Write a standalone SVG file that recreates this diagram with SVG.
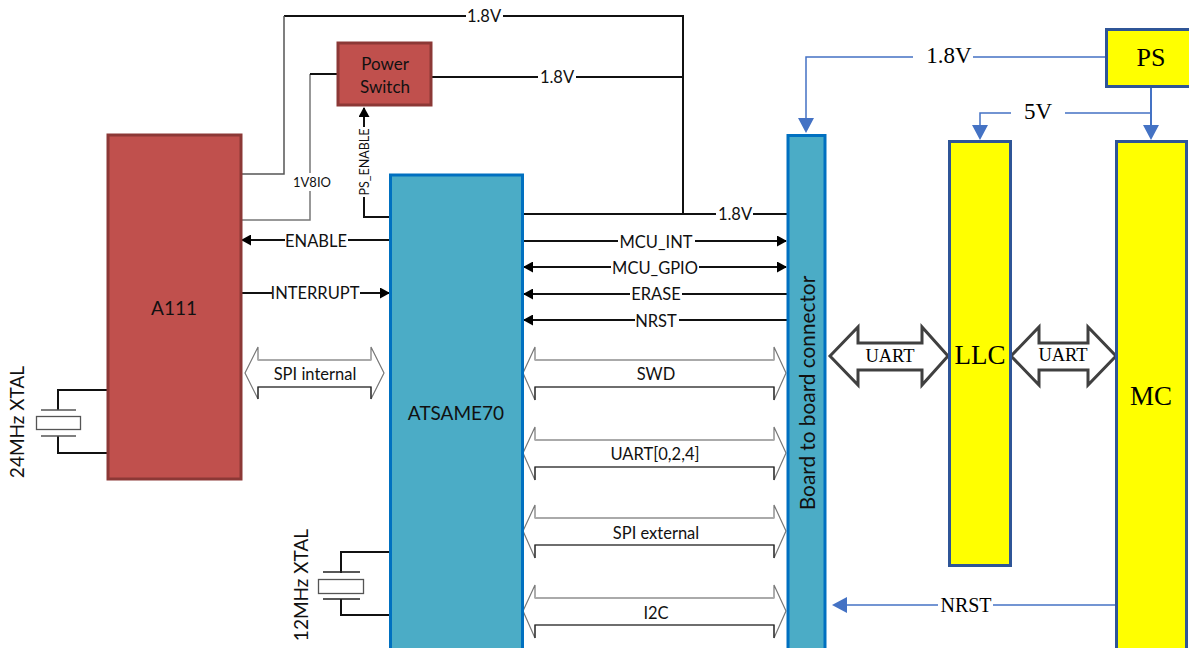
<svg xmlns="http://www.w3.org/2000/svg" width="1189" height="648" viewBox="0 0 1189 648">
<style>
text{font-family:Lato,"Noto Sans",sans-serif;fill:#111;text-anchor:middle}
.s{font-size:16.500px}
.t{font-family:"Liberation Serif",serif;fill:#000}
.k{fill:none;stroke:#111;stroke-width:2}
.g{fill:none;stroke:#777;stroke-width:1.500}
.b{fill:none;stroke:#4472C4;stroke-width:1.500}
.bb{fill:none;stroke:#4472C4;stroke-width:2}
.w{fill:#fff;stroke:none}
.red{fill:#C0504D;stroke:#8C3836;stroke-width:3}
.blue{fill:#4BACC6;stroke:#0070C0;stroke-width:3}
.yel{fill:#FF0;stroke:#2F5597;stroke-width:3}
.big{fill:#fff;stroke:#777;stroke-width:1.200}
.bot{fill:none;stroke:#222;stroke-width:1.200}
.top{fill:none;stroke:#aaa;stroke-width:2}
.hol{fill:#fff;stroke:#404040;stroke-width:3}
.plate{fill:none;stroke:#555;stroke-width:1.300}
</style>
<defs>
<marker id="ak" markerWidth="10" markerHeight="11" refX="9" refY="5.500" orient="auto-start-reverse" markerUnits="userSpaceOnUse"><path d="M0,0L10,5.500L0,11z" fill="#000"/></marker>
<g id="wide"><path class="big" d="M0,26L12,0V13H251V0L263,26L251,53V40H12V53z"/><path class="top" d="M12,13H251"/><path class="bot" d="M12,53V40H251V53"/></g>
</defs>
<g id="connectors">
<path class="k" d="M284,16H683V214"/>
<path class="g" d="M241,174H284V16" style="stroke:#555"/>
<path class="k" d="M431,77H683"/>
<path class="g" d="M241,220H310V74"/>
<path class="k" d="M310,74H337"/>
<path class="k" d="M390,217H364V108" marker-end="url(#ak)"/>
<path class="k" d="M523,214H787"/>
<path class="k" d="M390,240H242" marker-end="url(#ak)"/>
<path class="k" d="M241,293H389" marker-end="url(#ak)"/>
<path class="k" d="M523,241H786" marker-end="url(#ak)"/>
<path class="k" d="M524,267H786" marker-start="url(#ak)" marker-end="url(#ak)"/>
<path class="k" d="M787,294H524" marker-end="url(#ak)"/>
<path class="k" d="M787,320H524" marker-end="url(#ak)"/>
<path class="k" d="M107,390H58V410M58,436V453H107"/>
<path class="k" d="M390,552H341V573M341,599V615H390"/>
<path class="plate" d="M41,410H76M41,436H76"/><rect class="plate" x="36.500" y="416.500" width="44" height="13"/>
<path class="plate" d="M323,572H360M323,599H360" style="stroke:#222"/><rect class="plate" x="318.500" y="579.500" width="45" height="14"/>
<path class="b" d="M1106,57H806V118"/>
<polygon points="798,118 814,118 806,133" fill="#4472C4"/>
<path class="bb" d="M1151,86V126"/>
<polygon points="1143,125 1159,125 1151,140" fill="#4472C4"/>
<path class="b" d="M1151,113H980V126"/>
<polygon points="972,125 988,125 980,140" fill="#4472C4"/>
<path class="b" d="M1116,605H846"/>
<polygon points="847,597 847,613 832,605" fill="#4472C4"/>
<use href="#wide" x="523" y="347"/>
<use href="#wide" x="523" y="427"/>
<use href="#wide" x="523" y="505"/>
<use href="#wide" x="523" y="585"/>
<path class="big" d="M245,373L258,347V360H371V347L384,373L371,399V387H258V399z"/><path class="top" d="M258,360H371"/><path class="bot" d="M258,399V387H371V399"/>
<path class="hol" d="M830,356L858,327V343H922V327L948,356L922,385V370H858V385z"/>
<path class="hol" d="M1011,356L1039,327V343H1088V327L1116,356L1088,385V370H1039V385z"/>
<rect class="w" x="466" y="8" width="37" height="16"/>
<rect class="w" x="538" y="69" width="38" height="16"/>
<rect class="w" x="716" y="206" width="37" height="16"/>
<rect class="w" x="285" y="232" width="63" height="16"/>
<rect class="w" x="272" y="285" width="88" height="16"/>
<rect class="w" x="618" y="233" width="77" height="16"/>
<rect class="w" x="611" y="259" width="88" height="16"/>
<rect class="w" x="630" y="286" width="52" height="16"/>
<rect class="w" x="635" y="312" width="44" height="16"/>
<rect class="w" x="290" y="173" width="40" height="18"/>
<rect class="w" x="356" y="127" width="16" height="70"/>
<rect class="w" x="913" y="47" width="60" height="20"/>
<rect class="w" x="1011" y="103" width="54" height="20"/>
<rect class="w" x="938" y="596" width="55" height="18"/>
</g>
<g id="a111"><rect class="red" x="108" y="135" width="133" height="344"/><text x="174" y="315" font-size="19">A111</text></g>
<g id="power-switch"><rect class="red" x="338" y="43" width="93" height="62"/><text x="385" y="70" font-size="17">Power</text><text x="385" y="93" font-size="17">Switch</text></g>
<g id="atsame70"><rect class="blue" x="390.500" y="175" width="132" height="480"/><text x="456" y="420" font-size="19">ATSAME70</text></g>
<g id="board-connector"><rect class="blue" x="788" y="135.500" width="37" height="520"/><text transform="translate(815,393) rotate(-90)" font-size="20.800">Board to board connector</text></g>
<g id="llc"><rect class="yel" x="949.500" y="141.500" width="61" height="424"/><text class="t" x="980" y="364" font-size="27">LLC</text></g>
<g id="mc"><rect class="yel" x="1116.500" y="141.500" width="70" height="515"/><text class="t" x="1151" y="405" font-size="27">MC</text></g>
<g id="ps"><rect class="yel" x="1106.500" y="29.500" width="84" height="57"/><text class="t" x="1151" y="66" font-size="26">PS</text></g>
<g id="labels">
<text x="484" y="22" class="s">1.8V</text>
<text x="557" y="83" class="s">1.8V</text>
<text x="735" y="220" class="s">1.8V</text>
<text x="312" y="187" font-size="13">1V8IO</text>
<text transform="translate(369,162) rotate(-90)" font-size="12.500">PS_ENABLE</text>
<text x="316" y="247" class="s">ENABLE</text>
<text x="315" y="299" class="s">INTERRUPT</text>
<text x="656" y="248" class="s">MCU_INT</text>
<text x="655" y="274" class="s">MCU_GPIO</text>
<text x="656" y="300" class="s">ERASE</text>
<text x="656" y="327" class="s">NRST</text>
<text x="315" y="380" class="s">SPI internal</text>
<text x="656" y="380" class="s">SWD</text>
<text x="655" y="460" class="s">UART[0,2,4]</text>
<text x="656" y="539" class="s">SPI external</text>
<text x="656" y="619" class="s">I2C</text>
<text transform="translate(24,422) rotate(-90)" font-size="19">24MHz XTAL</text>
<text transform="translate(308,585) rotate(-90)" font-size="19">12MHz XTAL</text>
<text class="t" x="949" y="63" font-size="23">1.8V</text>
<text class="t" x="1038" y="119" font-size="23">5V</text>
<text class="t" x="966" y="612" font-size="20">NRST</text>
<text class="t" x="890" y="362" font-size="18.500">UART</text>
<text class="t" x="1063" y="361" font-size="18.500">UART</text>
</g>
</svg>
